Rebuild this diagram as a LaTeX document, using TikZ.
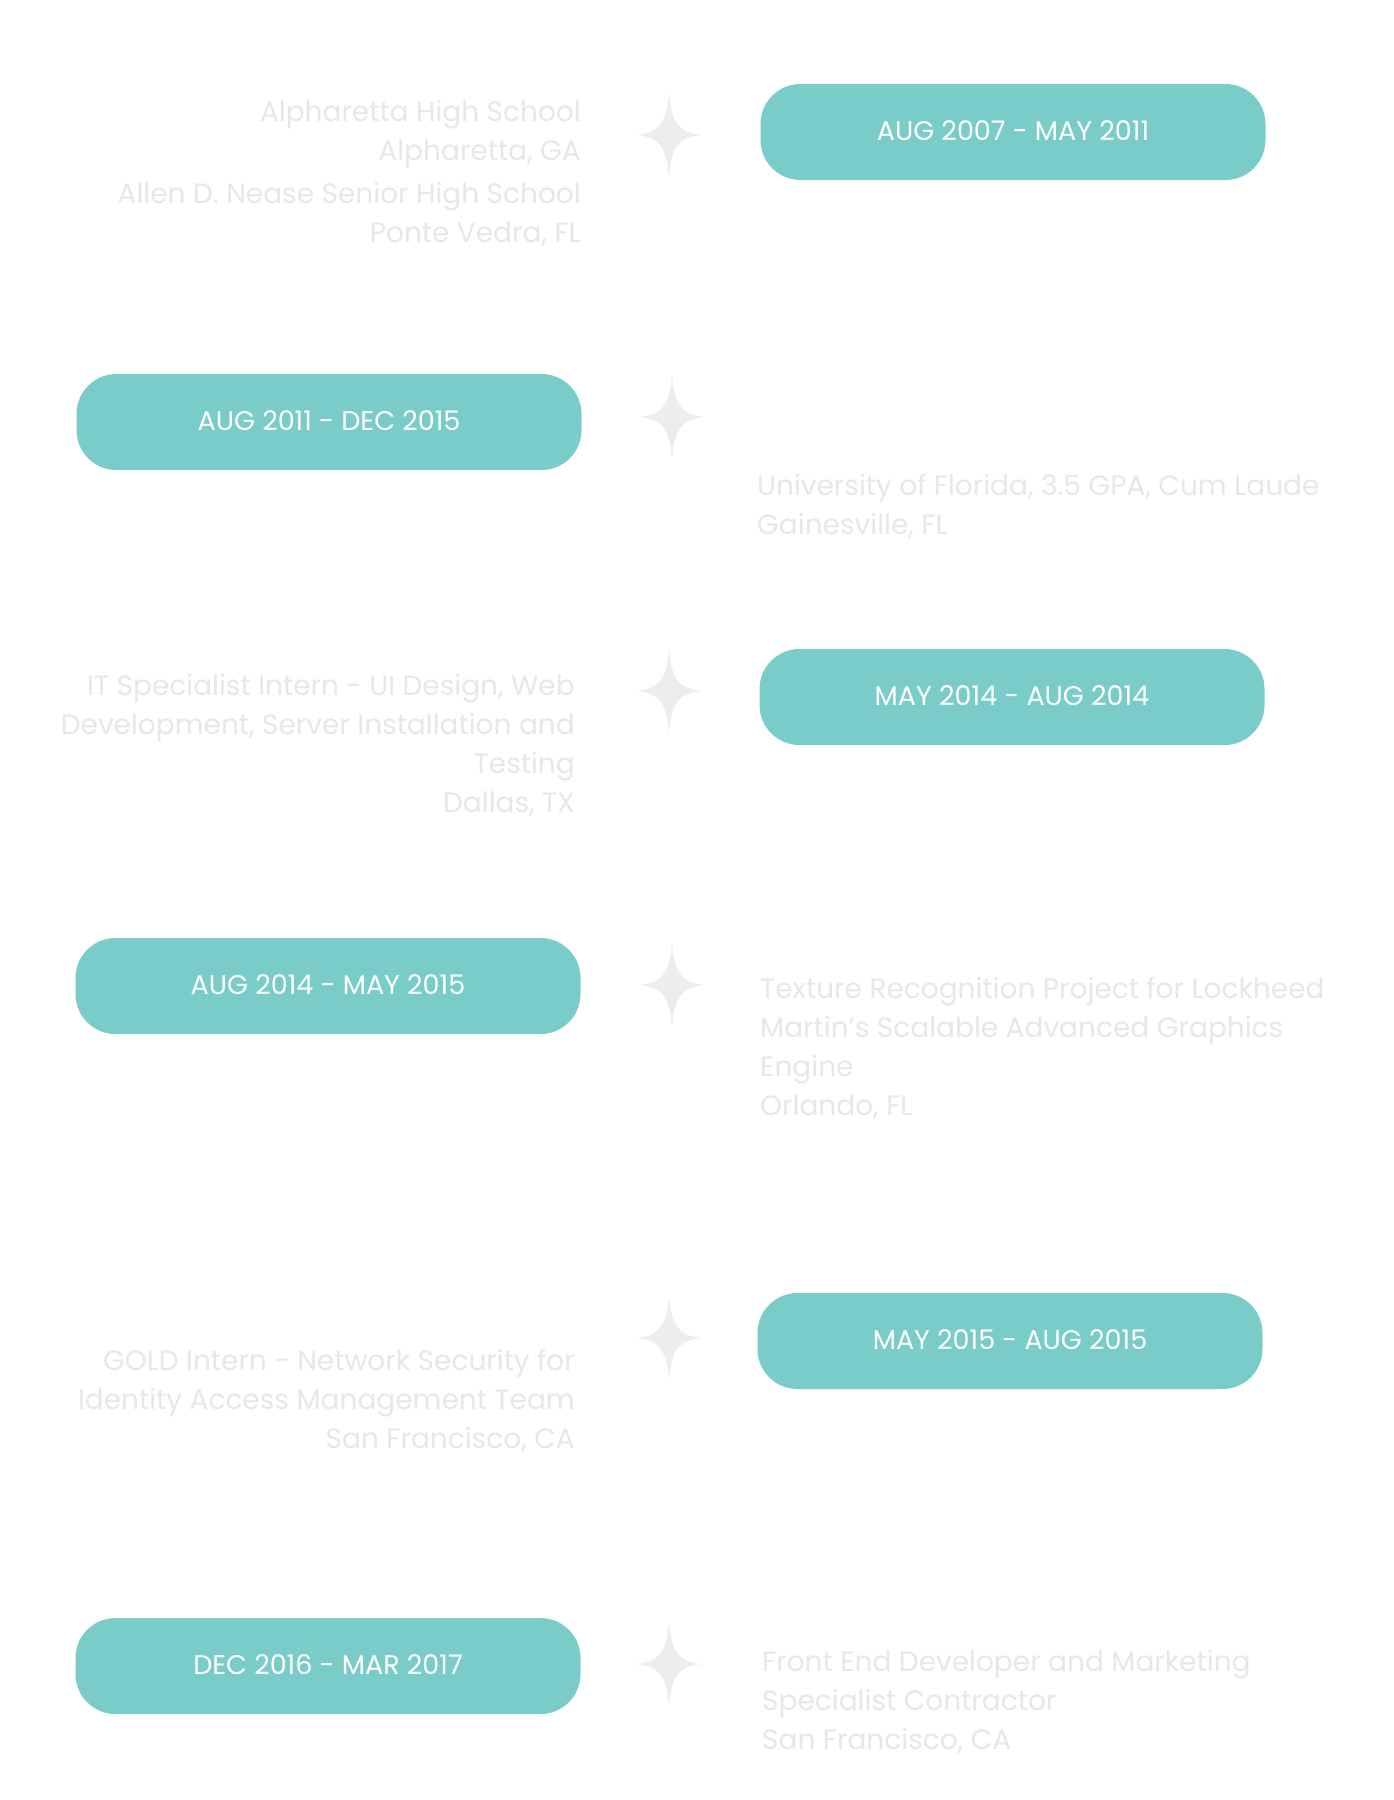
\documentclass[tikz,border=0pt]{standalone}
\usepackage{fontspec}
\setmainfont{Poppins}
\definecolor{pillteal}{HTML}{7ACCC8}
\definecolor{startint}{HTML}{EEECED}
\definecolor{softgrey}{HTML}{E7E7E7}
\tikzset{
  pill/.style={rounded corners=40pt, fill=pillteal, draw=none,
    minimum width=505pt, minimum height=96pt, text=white,
    font=\fontsize{27}{30}\selectfont, inner sep=0pt},
  detailL/.style={anchor=north east, align=right, text=softgrey,
    font=\fontsize{28}{39}\selectfont, inner sep=0pt},
  detailR/.style={anchor=north west, align=left, text=softgrey,
    font=\fontsize{28}{39}\selectfont, inner sep=0pt},
  sparkle/.pic={
    \fill[startint] (0,43) .. controls (2,12) and (10,2) .. (33,0)
      .. controls (10,-2) and (2,-12) .. (0,-43)
      .. controls (-2,-12) and (-10,-2) .. (-33,0)
      .. controls (-10,2) and (-2,12) .. cycle;
  }
}
\newcommand{\lift}[1]{\raisebox{2pt}{#1}}
\begin{document}
\begin{tikzpicture}[x=1pt,y=-1pt]
\useasboundingbox (0,0) rectangle (1394,1800);

% timeline markers
\pic at (669,135) {sparkle};
\pic at (672,417) {sparkle};
\pic at (669,691) {sparkle};
\pic at (672,985) {sparkle};
\pic at (669,1338) {sparkle};
\pic at (669,1664) {sparkle};

% date pills
\node[pill] (p1) at (1013,132) {\lift{AUG 2007 - MAY 2011}};
\node[pill] (p2) at (329,422) {\lift{AUG 2011 - DEC 2015}};
\node[pill] (p3) at (1012,697) {\lift{MAY 2014 - AUG 2014}};
\node[pill] (p4) at (328,986) {\lift{AUG 2014 - MAY 2015}};
\node[pill] (p5) at (1010,1341) {\lift{MAY 2015 - AUG 2015}};
\node[pill] (p6) at (328,1666) {\lift{DEC 2016 - MAR 2017}};

% details
\node[detailL] (d1) at (581,100) {Alpharetta High School\\Alpharetta, GA\\[4pt]Allen D. Nease Senior High School\\Ponte Vedra, FL};
\node[detailR] (d2) at (757,474) {University of Florida, 3.5 GPA, Cum Laude\\Gainesville, FL};
\node[detailL] (d3) at (575,674) {IT Specialist Intern - UI Design, Web\\Development, Server Installation and\\Testing\\Dallas, TX};
\node[detailR] (d4) at (760,977) {Texture Recognition Project for Lockheed\\Martin's Scalable Advanced Graphics\\Engine\\Orlando, FL};
\node[detailL] (d5) at (575,1349) {GOLD Intern - Network Security for\\Identity Access Management Team\\San Francisco, CA};
\node[detailR] (d6) at (762,1650) {Front End Developer and Marketing\\Specialist Contractor\\San Francisco, CA};
\end{tikzpicture}
\end{document}
